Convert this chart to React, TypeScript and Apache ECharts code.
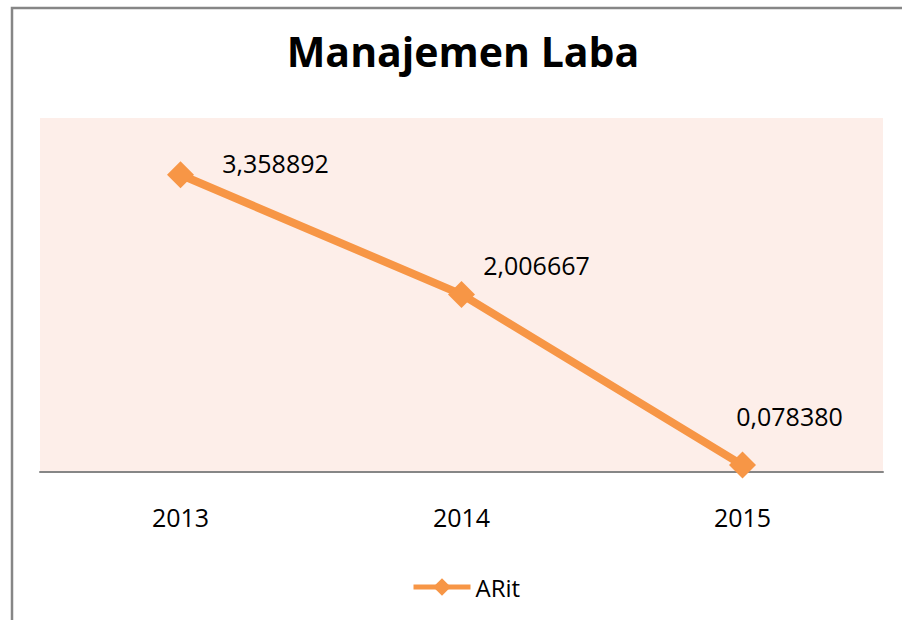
import React, { useEffect, useRef } from "react";
import * as echarts from "echarts";

const categories = ["2013", "2014", "2015"];
const seriesName = "ARit";
const values = [3.358892, 2.006667, 0.07838];
const labelTexts = ["3,358892", "2,006667", "0,078380"];
const labelOffsets = [
  [95, -12],
  [75, -29],
  [47, -49],
];

export default function App() {
  const ref = useRef<HTMLDivElement>(null);
  useEffect(() => {
    document.body.style.margin = "0";
    const chart = echarts.init(ref.current!, null, { renderer: "svg" });
    const font = "'Open Sans', 'Noto Sans', sans-serif";
    chart.setOption({
      animation: false,
      backgroundColor: "#ffffff",
      textStyle: { fontFamily: font },
      graphic: [
        {
          type: "rect",
          shape: { x: 12, y: 8, width: 1000, height: 1000 },
          style: { fill: "none", stroke: "#868686", lineWidth: 2.5 },
          silent: true,
        },
        {
          type: "text",
          x: 463,
          y: 51,
          style: {
            text: "Manajemen Laba",
            font: `bold 41px ${font}`,
            fill: "#000000",
            textAlign: "center",
            textVerticalAlign: "middle",
          },
        },
      ],
      legend: {
        data: [seriesName],
        left: 406,
        top: 570,
        itemWidth: 57,
        itemHeight: 22,
        itemGap: 6,
        textStyle: { fontSize: 24, color: "#000000", fontFamily: font },
        lineStyle: { width: 5 },
      },
      grid: {
        left: 40,
        right: 19,
        top: 118,
        bottom: 148,
        show: true,
        backgroundColor: "#FDEEE9",
        borderWidth: 0,
      },
      xAxis: {
        type: "category",
        data: categories,
        boundaryGap: true,
        axisLine: { lineStyle: { color: "#868686", width: 2 } },
        axisTick: { show: false },
        axisLabel: { fontSize: 25, color: "#000000", margin: 32, fontFamily: font },
      },
      yAxis: {
        type: "value",
        min: 0,
        max: 4,
        show: false,
        splitLine: { show: false },
      },
      series: [
        {
          name: seriesName,
          type: "line",
          data: values.map((v, i) => ({
            value: v,
            label: {
              show: true,
              position: "inside",
              offset: labelOffsets[i],
              formatter: labelTexts[i],
              fontSize: 25,
              color: "#000000",
              fontFamily: font,
            },
          })),
          symbol: "diamond",
          symbolSize: 27,
          itemStyle: { color: "#F79646" },
          lineStyle: { color: "#F79646", width: 8 },
        },
      ],
    });
    return () => chart.dispose();
  }, []);
  return <div ref={ref} style={{ width: 902, height: 620 }} />;
}
